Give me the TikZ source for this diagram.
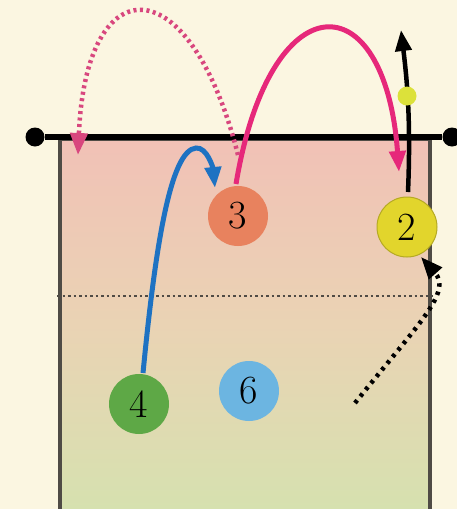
\documentclass[tikz,border=0pt]{standalone}
\usetikzlibrary{arrows.meta}
\definecolor{bgcream}{HTML}{FBF6E1}
\definecolor{courtpink}{HTML}{F1C1B6}
\definecolor{courtmid}{HTML}{EAD3B4}
\definecolor{courtgreen}{HTML}{D6E1AF}
\definecolor{linegray}{HTML}{4F4B45}
\definecolor{magentaA}{HTML}{E6287A}
\definecolor{magentaD}{HTML}{D8477E}
\definecolor{blueA}{HTML}{1E72C2}
\definecolor{p3col}{HTML}{E8825E}
\definecolor{p2col}{HTML}{E2D52C}
\definecolor{p4col}{HTML}{5EA846}
\definecolor{p6col}{HTML}{6CB5E1}
\definecolor{ballcol}{HTML}{DCE13A}
\tikzset{
  player/.style={circle,minimum size=60pt,inner sep=0pt,font=\fontsize{40}{40}\selectfont},
  tipA/.style={-{Triangle[length=21pt,width=16pt]}},
  netdot/.style={circle,fill=black,minimum size=19pt,inner sep=0pt},
  ballstyle/.style={circle,fill=ballcol,minimum size=19pt,inner sep=0pt},
}
\begin{document}
\begin{tikzpicture}[x=1pt,y=-1pt]
\useasboundingbox (0,0) rectangle (457,509);
\fill[bgcream] (0,0) rectangle (457,509);
% court
\shade[top color=courtpink,bottom color=courtgreen,middle color=courtmid] (60,139) rectangle (430,509);
\draw[linegray,line width=3.5pt] (60,509) -- (60,139) -- (430,139) -- (430,509);
% attack line
\draw[linegray,line width=2.2pt,dash pattern=on 2.5pt off 3pt] (57,296) -- (433,296);
% net
\node[netdot] (nl) at (35,137) {};
\node[netdot] (nr) at (452,137) {};
\draw[black,line width=6pt] (nl) -- (nr);
% players
\node[player,fill=p3col] (p3) at (238,216) {3};
\node[player,fill=p2col,draw=p2col!80!black,line width=1pt] (p2) at (407,227) {2};
\node[player,fill=p4col] (p4) at (139,404) {4};
\node[player,fill=p6col] (p6) at (249,391) {6};
% coordinates
\coordinate (s3) at (236,184);
\coordinate (e3) at (399,172);
\coordinate (d0) at (238,155);
\coordinate (d1) at (78,155);
\coordinate (s4) at (143,373);
\coordinate (b4) at (215,188);
\coordinate (s2) at (408,192);
\coordinate (e2) at (401,30);
\coordinate (ds) at (355,403);
\coordinate (de) at (421,257);
% black arrow from 2
\draw[black,line width=4.5pt,tipA] (s2) .. controls (411,120) and (407,80) .. (e2);
\node[ballstyle] (ball) at (407,96) {};
% pink solid arc
\draw[magentaA,line width=5pt,tipA] (s3) .. controls (270,-20) and (385,-20) .. (e3);
% pink dotted arc
\draw[magentaD,line width=4.5pt,dash pattern=on 3pt off 3.5pt,-{Triangle[length=22pt,width=17pt]}] (d0) .. controls (190,-35) and (86,-35) .. (d1);
% blue arc
\draw[blueA,line width=5pt,tipA] (s4) .. controls (155,250) and (170,150) .. (196,148) .. controls (207,147) and (213,168) .. (b4);
% black dotted arrow
\draw[black,line width=4.5pt,dash pattern=on 3.5pt off 5pt,-{Triangle[length=22pt,width=17pt]}] (ds) .. controls (420,322) and (452,292) .. (de);
\end{tikzpicture}
\end{document}
